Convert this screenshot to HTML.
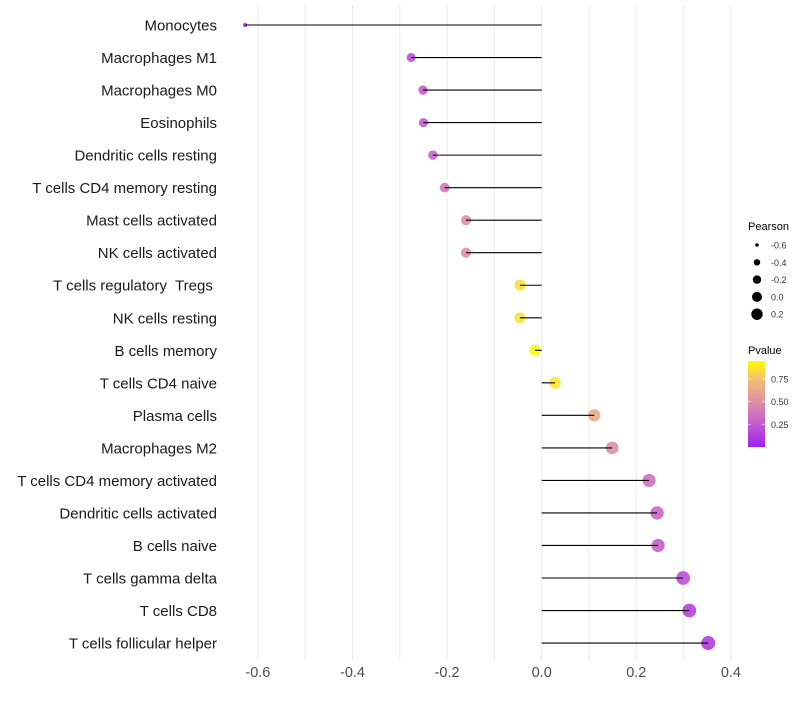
<!DOCTYPE html>
<html><head><meta charset="utf-8"><style>
body{margin:0;background:#fff;font-family:"Liberation Sans",sans-serif}
text{white-space:pre}
</style></head><body>
<svg id="c" width="800" height="700" xmlns="http://www.w3.org/2000/svg"></svg>
<script>
const categories=["Monocytes","Macrophages M1","Macrophages M0","Eosinophils","Dendritic cells resting","T cells CD4 memory resting","Mast cells activated","NK cells activated","T cells regulatory  Tregs ","NK cells resting","B cells memory","T cells CD4 naive","Plasma cells","Macrophages M2","T cells CD4 memory activated","Dendritic cells activated","B cells naive","T cells gamma delta","T cells CD8","T cells follicular helper"];
const pearson=[-0.627,-0.276,-0.251,-0.250,-0.230,-0.205,-0.160,-0.160,-0.046,-0.046,-0.014,0.028,0.111,0.149,0.227,0.244,0.246,0.299,0.312,0.352];
const pvalues=[0.02,0.2,0.25,0.26,0.3,0.38,0.5,0.5,0.85,0.85,0.93,0.88,0.65,0.5,0.35,0.3,0.28,0.2,0.15,0.12];
const xTicks=[-0.6,-0.4,-0.2,0.0,0.2,0.4];
const sizeTicks=[-0.6,-0.4,-0.2,0.0,0.2];
const colorTicks=[0.25,0.5,0.75];
const NS="http://www.w3.org/2000/svg";
const svg=document.getElementById('c');
const X=v=>541.7+v*473;
const Y=i=>25+i*32.53;
const R=v=>Math.sqrt(4+46*Math.max(0,v+0.63));
const stops=[[0,[160,32,240]],[0.25,[196,90,208]],[0.5,[223,143,164]],[0.75,[243,192,112]],[0.95,[255,255,0]]];
function col(p){p=Math.max(0,Math.min(0.95,p));for(let k=0;k<stops.length-1;k++){const a=stops[k],b=stops[k+1];if(p<=b[0]){const t=(p-a[0])/(b[0]-a[0]);return 'rgb('+a[1].map((c,j)=>Math.round(c+(b[1][j]-c)*t)).join(',')+')';}}return 'rgb(255,255,0)';}
function mk(t,at,par){const e=document.createElementNS(NS,t);for(const k in at)e.setAttribute(k,at[k]);(par||svg).appendChild(e);return e;}
for(let v=-0.6;v<=0.41;v+=0.1){const g=mk('line',{x1:X(v),x2:X(v),y1:5,y2:660,stroke:'#ebebeb','stroke-width':1});

}
categories.forEach((c,i)=>{
const t=mk('text',{x:217,y:Y(i)+5.5,'text-anchor':'end','font-size':15,fill:'#1a1a1a'});t.textContent=c;


const p=mk('circle',{cx:X(pearson[i]),cy:Y(i),r:R(pearson[i]),fill:col(pvalues[i]),'fill-opacity':0.9});


const l=mk('line',{x1:X(pearson[i]),x2:X(0),y1:Y(i),y2:Y(i),stroke:'#000','stroke-width':1.1});


});
xTicks.forEach(v=>{const t=mk('text',{x:X(v),y:677,'text-anchor':'middle','font-size':14.5,fill:'#4d4d4d'});t.textContent=v.toFixed(1);

});
const lt=mk('text',{x:748,y:230,'font-size':11,fill:'#000'});lt.textContent='Pearson';


sizeTicks.forEach((v,k)=>{const y=245+k*17.3;
const c=mk('circle',{cx:757,cy:y,r:[1.8,3.2,4.2,5,5.7][k],fill:'#000'});


const t=mk('text',{x:771,y:y+3.5,'font-size':9,fill:'#333'});t.textContent=v.toFixed(1);

});
const ct=mk('text',{x:748,y:354,'font-size':11,fill:'#000'});ct.textContent='Pvalue';


const defs=mk('defs',{});const gr=mk('linearGradient',{id:'g',x1:0,y1:1,x2:0,y2:0},defs);
stops.forEach(s=>mk('stop',{offset:s[0]/0.95,'stop-color':'rgb('+s[1].join(',')+')'},gr));
const cb=mk('rect',{x:748,y:361,width:17,height:86,fill:'url(#g)'});


colorTicks.forEach(v=>{const y=447-v*90.8;
mk('line',{x1:748,x2:751,y1:y,y2:y,stroke:'#fff','stroke-opacity':0.6});
mk('line',{x1:762,x2:765,y1:y,y2:y,stroke:'#fff','stroke-opacity':0.6});
const t=mk('text',{x:771,y:y+3.5,'font-size':9,fill:'#333'});t.textContent=v.toFixed(2);

});
</script>
</body></html>
